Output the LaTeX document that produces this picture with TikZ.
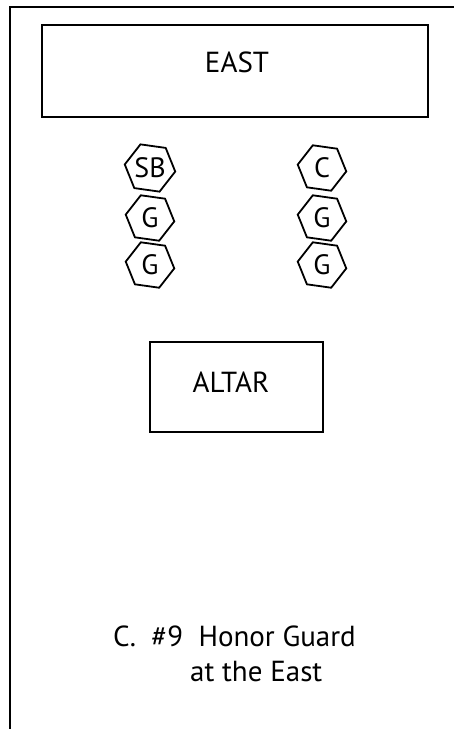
\documentclass[tikz,border=0pt]{standalone}
\usepackage{fontspec}
\setmainfont{PT Sans}
\usetikzlibrary{shapes.geometric}
\begin{document}
\begin{tikzpicture}[x=1pt,y=-1pt,
  frame/.style={line width=2.4pt},
  boxshape/.style={draw,line width=2pt,rectangle,inner sep=0pt},
  hex/.style={draw,line width=1.8pt,regular polygon,regular polygon sides=6,minimum size=49pt,inner sep=0pt,shape border rotate=-8,font=\fontsize{28}{32}\selectfont},
  lbl/.style={font=\fontsize{29}{33}\selectfont,inner sep=0pt}]
\useasboundingbox (0,0) rectangle (454,729);
\draw[frame] (454,7) -- (10,7) -- (10,729);
\node[boxshape,minimum width=386pt,minimum height=92pt] (east) at (235,71) {};
\node[lbl] (eastlabel) at (237,62) {EAST};
\node[hex] (sb) at (150,168) {SB};
\node[hex] (g1) at (150,218) {G};
\node[hex] (g2) at (150,265) {G};
\node[hex] (c) at (322,168) {C};
\node[hex] (g3) at (322,218) {G};
\node[hex] (g4) at (322,265) {G};
\node[boxshape,minimum width=173pt,minimum height=90pt] (altar) at (236.5,387) {};
\node[lbl] (altarlabel) at (231,382) {ALTAR};
\node[lbl,anchor=base west] (cap1) at (113,646) {C.\ \ \#9\ \ Honor Guard};
\node[lbl,anchor=base west] (cap2) at (190,681) {at the East};
\end{tikzpicture}
\end{document}
